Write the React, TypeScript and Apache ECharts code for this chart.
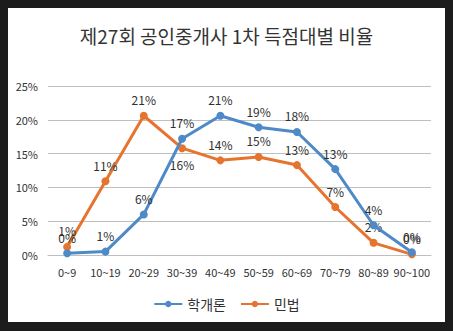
import React, { useEffect, useRef } from "react";
import * as echarts from "echarts";

const categories = ["0~9", "10~19", "20~29", "30~39", "40~49", "50~59", "60~69", "70~79", "80~89", "90~100"];
const seriesNames = ["학개론", "민법"];
const hakgaeron = [0.25, 0.5, 6.0, 17.2, 20.6, 18.9, 18.2, 12.7, 4.4, 0.4];
const minbeop = [1.2, 10.9, 20.6, 15.8, 14.0, 14.5, 13.3, 7.1, 1.8, 0.1];
const yTicks = [0, 5, 10, 15, 20, 25];
const titleText = "제27회 공인중개사 1차 득점대별 비율";

const FONT = "'Noto Sans CJK KR', 'Noto Sans', sans-serif";

export default function App() {
  const ref = useRef<HTMLDivElement>(null);
  useEffect(() => {
    if (!ref.current) return;
    const chart = echarts.init(ref.current, null, { renderer: "svg" });
    const labelStyle = {
      show: true,
      position: "top" as const,
      distance: 6,
      color: "#303030",
      fontSize: 12,
      fontFamily: FONT,
      formatter: (p: any) => Math.round(p.value) + "%",
    };
    chart.setOption({
      animation: false,
      backgroundColor: "#ffffff",
      textStyle: { fontFamily: FONT },
      title: {
        text: titleText,
        left: "center",
        top: 13,
        textStyle: { fontSize: 19, fontWeight: "normal", color: "#333333", fontFamily: FONT },
      },
      grid: { left: 40, right: 14, top: 78, bottom: 67 },
      legend: {
        bottom: 6,
        left: "center",
        itemWidth: 28,
        itemHeight: 8,
        itemGap: 14,
        textStyle: { fontSize: 14, color: "#333333", fontFamily: FONT },
        data: seriesNames,
      },
      xAxis: {
        type: "category",
        data: categories,
        boundaryGap: true,
        axisLine: { show: true, lineStyle: { color: "#bfbfbf" } },
        axisTick: { show: false },
        axisLabel: { color: "#333333", fontSize: 11, margin: 11, interval: 0, fontFamily: FONT },
      },
      yAxis: {
        type: "value",
        min: yTicks[0],
        max: yTicks[yTicks.length - 1],
        interval: 5,
        axisLine: { show: false },
        axisTick: { show: false },
        axisLabel: { color: "#333333", fontSize: 11, formatter: "{value}%", margin: 10, fontFamily: FONT },
        splitLine: { lineStyle: { color: "#bfbfbf", width: 1 } },
      },
      series: [
        {
          name: seriesNames[0],
          type: "line",
          data: hakgaeron,
          color: "#4e8ac8",
          symbol: "circle",
          symbolSize: 8,
          lineStyle: { width: 3 },
          label: labelStyle,
          z: 3,
        },
        {
          name: seriesNames[1],
          type: "line",
          data: minbeop.map((v, i) => (i === 3 ? { value: v, label: { position: "bottom" } } : v)),
          color: "#e6742e",
          symbol: "circle",
          symbolSize: 8,
          lineStyle: { width: 3 },
          label: labelStyle,
          z: 2,
        },
      ],
    });
    return () => chart.dispose();
  }, []);
  return (
    <div style={{ position: "fixed", left: 0, top: 0, width: 453, height: 331, background: "#1c1c1c" }}>
      <div
        style={{
          position: "absolute",
          left: 8,
          top: 8,
          width: 437,
          height: 314,
          background: "#ffffff",
          boxSizing: "border-box",
          border: "1px solid #d0d0d0",
        }}
      >
        <div ref={ref} style={{ position: "absolute", left: -1, top: -1, width: 437, height: 314 }} />
      </div>
    </div>
  );
}
